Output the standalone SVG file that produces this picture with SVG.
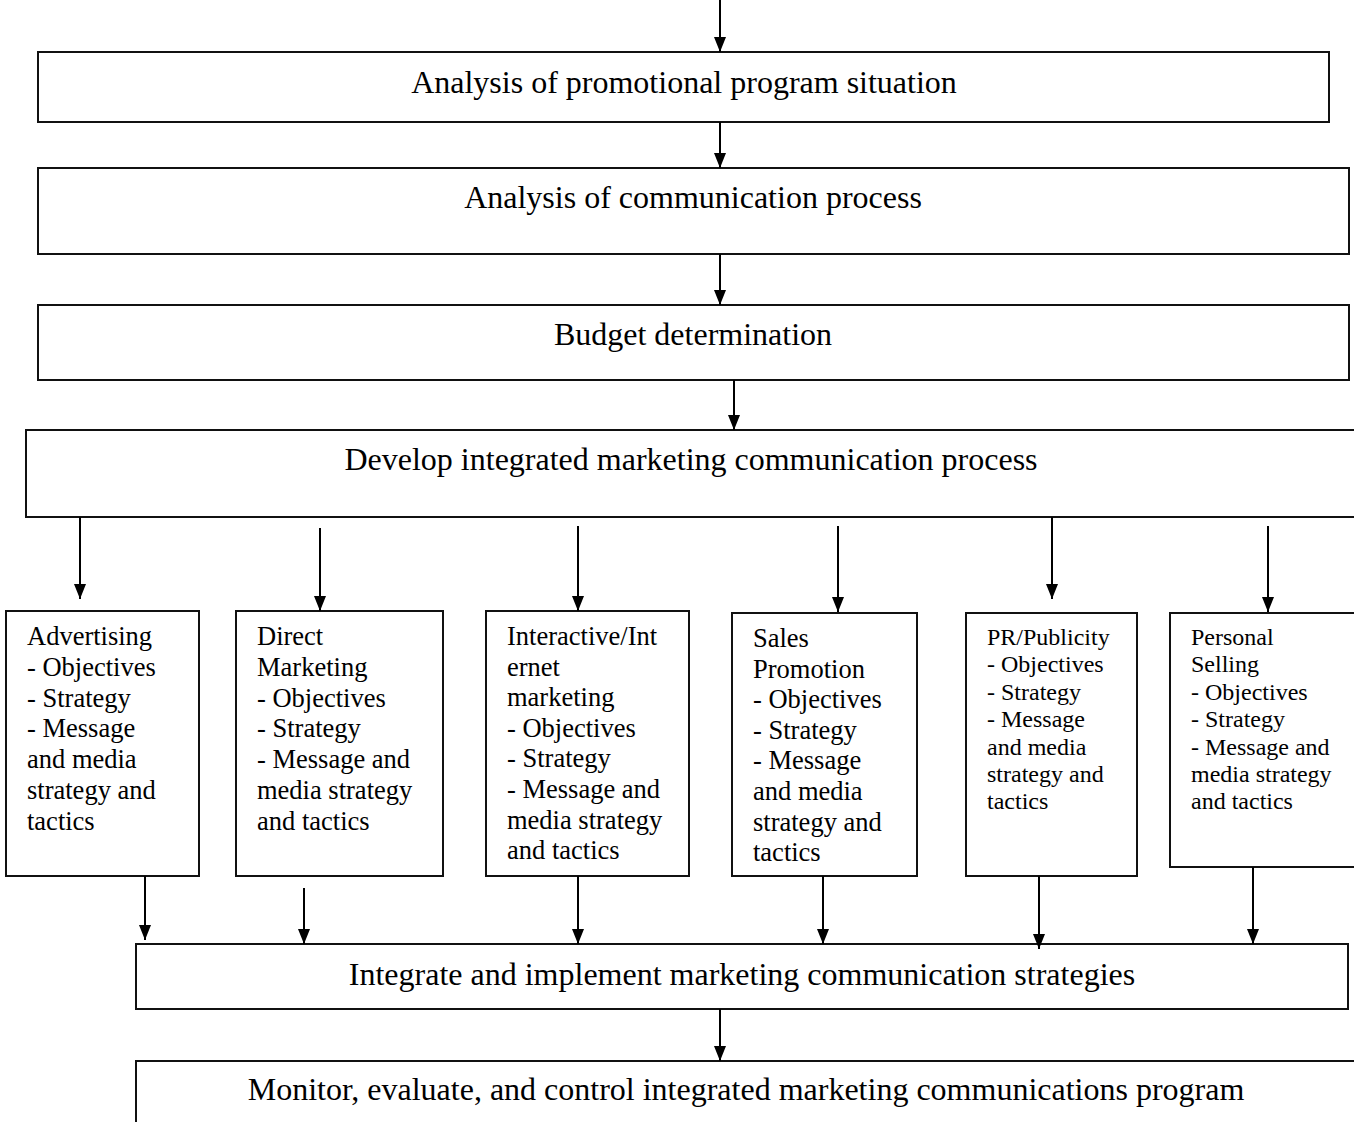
<svg xmlns="http://www.w3.org/2000/svg" width="1354" height="1122" viewBox="0 0 1354 1122">
  <style>
    .box { fill: #ffffff; stroke: #111111; stroke-width: 2; }
    .wire { stroke: #000000; stroke-width: 2; fill: none; marker-end: url(#head); }
    .big { font-family: "Liberation Serif", "Times New Roman", serif; font-size: 32px; fill: #000; text-anchor: middle; }
    .mid { font-family: "Liberation Serif", "Times New Roman", serif; font-size: 26.5px; fill: #000; }
    .sml { font-family: "Liberation Serif", "Times New Roman", serif; font-size: 24px; fill: #000; }
  </style>
  <defs>
    <marker id="head" viewBox="0 0 15 12" refX="15" refY="6" markerWidth="15" markerHeight="12" markerUnits="userSpaceOnUse" orient="auto">
      <path d="M0,0 L15,6 L0,12 z" fill="#000"/>
    </marker>
  </defs>
  <rect width="1354" height="1122" fill="#ffffff"/>

  <!-- process stages -->
  <g id="situation">
    <rect class="box" x="38" y="52" width="1291" height="70"/>
    <text class="big" x="684" y="93">Analysis of promotional program situation</text>
  </g>
  <g id="communication">
    <rect class="box" x="38" y="168" width="1311" height="86"/>
    <text class="big" x="693" y="208">Analysis of communication process</text>
  </g>
  <g id="budget">
    <rect class="box" x="38" y="305" width="1311" height="75"/>
    <text class="big" x="693" y="345">Budget determination</text>
  </g>
  <g id="develop">
    <rect class="box" x="26" y="430" width="1345" height="87"/>
    <text class="big" x="691" y="470">Develop integrated marketing communication process</text>
  </g>

  <!-- communication tools -->
  <g id="advertising">
    <rect class="box" x="6" y="611" width="193" height="265"/>
    <text class="mid" x="27" y="645">
      <tspan x="27">Advertising</tspan>
      <tspan x="27" dy="30.8">- Objectives</tspan>
      <tspan x="27" dy="30.8">- Strategy</tspan>
      <tspan x="27" dy="30.8">- Message</tspan>
      <tspan x="27" dy="30.8">and media</tspan>
      <tspan x="27" dy="30.8">strategy and</tspan>
      <tspan x="27" dy="30.8">tactics</tspan>
    </text>
  </g>
  <g id="direct-marketing">
    <rect class="box" x="236" y="611" width="207" height="265"/>
    <text class="mid" x="257" y="645">
      <tspan x="257">Direct</tspan>
      <tspan x="257" dy="30.8">Marketing</tspan>
      <tspan x="257" dy="30.8">- Objectives</tspan>
      <tspan x="257" dy="30.8">- Strategy</tspan>
      <tspan x="257" dy="30.8">- Message and</tspan>
      <tspan x="257" dy="30.8">media strategy</tspan>
      <tspan x="257" dy="30.8">and tactics</tspan>
    </text>
  </g>
  <g id="interactive">
    <rect class="box" x="486" y="611" width="203" height="265"/>
    <text class="mid" x="507" y="645">
      <tspan x="507">Interactive/Int</tspan>
      <tspan x="507" dy="30.6">ernet</tspan>
      <tspan x="507" dy="30.6">marketing</tspan>
      <tspan x="507" dy="30.6">- Objectives</tspan>
      <tspan x="507" dy="30.6">- Strategy</tspan>
      <tspan x="507" dy="30.6">- Message and</tspan>
      <tspan x="507" dy="30.6">media strategy</tspan>
      <tspan x="507" dy="30.6">and tactics</tspan>
    </text>
  </g>
  <g id="sales-promotion">
    <rect class="box" x="732" y="613" width="185" height="263"/>
    <text class="mid" x="753" y="647">
      <tspan x="753">Sales</tspan>
      <tspan x="753" dy="30.6">Promotion</tspan>
      <tspan x="753" dy="30.6">- Objectives</tspan>
      <tspan x="753" dy="30.6">- Strategy</tspan>
      <tspan x="753" dy="30.6">- Message</tspan>
      <tspan x="753" dy="30.6">and media</tspan>
      <tspan x="753" dy="30.6">strategy and</tspan>
      <tspan x="753" dy="30.6">tactics</tspan>
    </text>
  </g>
  <g id="pr-publicity">
    <rect class="box" x="966" y="613" width="171" height="263"/>
    <text class="sml" x="987" y="645">
      <tspan x="987">PR/Publicity</tspan>
      <tspan x="987" dy="27.4">- Objectives</tspan>
      <tspan x="987" dy="27.4">- Strategy</tspan>
      <tspan x="987" dy="27.4">- Message</tspan>
      <tspan x="987" dy="27.4">and media</tspan>
      <tspan x="987" dy="27.4">strategy and</tspan>
      <tspan x="987" dy="27.4">tactics</tspan>
    </text>
  </g>
  <g id="personal-selling">
    <rect class="box" x="1170" y="613" width="200" height="254"/>
    <text class="sml" x="1191" y="645">
      <tspan x="1191">Personal</tspan>
      <tspan x="1191" dy="27.4">Selling</tspan>
      <tspan x="1191" dy="27.4">- Objectives</tspan>
      <tspan x="1191" dy="27.4">- Strategy</tspan>
      <tspan x="1191" dy="27.4">- Message and</tspan>
      <tspan x="1191" dy="27.4">media strategy</tspan>
      <tspan x="1191" dy="27.4">and tactics</tspan>
    </text>
  </g>

  <!-- closing stages -->
  <g id="integrate">
    <rect class="box" x="136" y="944" width="1212" height="65"/>
    <text class="big" x="742" y="985">Integrate and implement marketing communication strategies</text>
  </g>
  <g id="monitor">
    <rect class="box" x="136" y="1061" width="1240" height="100"/>
    <text class="big" x="746" y="1100">Monitor, evaluate, and control integrated marketing communications program</text>
  </g>

  <!-- connectors -->
  <g id="connectors">
    <line class="wire" x1="720" y1="0" x2="720" y2="52"/>
    <line class="wire" x1="720" y1="122" x2="720" y2="168"/>
    <line class="wire" x1="720" y1="254" x2="720" y2="305"/>
    <line class="wire" x1="734" y1="380" x2="734" y2="430"/>

    <line class="wire" x1="80" y1="517" x2="80" y2="599"/>
    <line class="wire" x1="320" y1="528" x2="320" y2="611"/>
    <line class="wire" x1="578" y1="526" x2="578" y2="611"/>
    <line class="wire" x1="838" y1="526" x2="838" y2="612"/>
    <line class="wire" x1="1052" y1="517" x2="1052" y2="599"/>
    <line class="wire" x1="1268" y1="526" x2="1268" y2="612"/>

    <line class="wire" x1="145" y1="876" x2="145" y2="940"/>
    <line class="wire" x1="304" y1="888" x2="304" y2="944"/>
    <line class="wire" x1="578" y1="876" x2="578" y2="944"/>
    <line class="wire" x1="823" y1="876" x2="823" y2="944"/>
    <line class="wire" x1="1039" y1="876" x2="1039" y2="949"/>
    <line class="wire" x1="1253" y1="867" x2="1253" y2="944"/>

    <line class="wire" x1="720" y1="1009" x2="720" y2="1061"/>
  </g>
</svg>
